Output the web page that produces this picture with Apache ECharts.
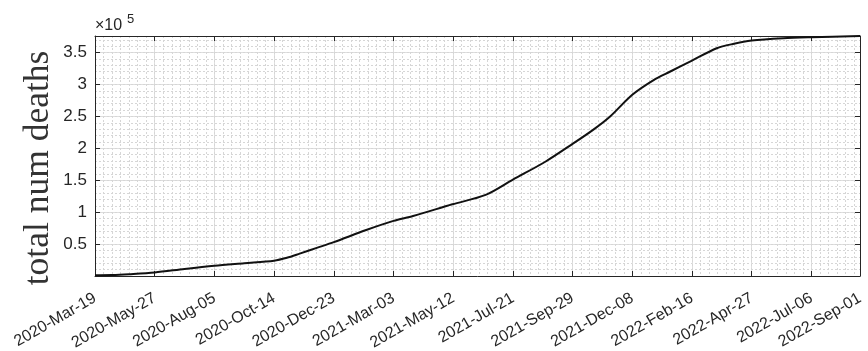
<!DOCTYPE html>
<html>
<head>
<meta charset="utf-8">
<script src="https://cdn.jsdelivr.net/npm/echarts@6/dist/echarts.min.js"></script>
<style>
html,body{margin:0;padding:0;background:#fff;}
#chart{width:868px;height:351px;}
</style>
</head>
<body>
<div id="chart"></div>
<script>
// Day index (1 = 2020-Mar-19) and cumulative deaths
const dayIdx = [0, 20, 40, 70, 105, 140, 175, 210, 225, 240, 260, 280, 318, 350, 373, 419, 458, 490, 528, 560, 584, 604, 630, 655, 674, 700, 729, 748, 770, 807, 840, 897];
const deaths = [1200, 1500, 2800, 5500, 11000, 16000, 20000, 24000, 28500, 35000, 44000, 53000, 72000, 86300, 94000, 112300, 127000, 151000, 179000, 207000, 229000, 250000, 284000, 307000, 320000, 337500, 356800, 363500, 368800, 372400, 374000, 376000];

const xTickValues = [0, 70, 140, 210, 280, 350, 420, 490, 560, 630, 700, 770, 840, 897];
const xTickLabels = ['2020-Mar-19', '2020-May-27', '2020-Aug-05', '2020-Oct-14', '2020-Dec-23', '2021-Mar-03', '2021-May-12', '2021-Jul-21', '2021-Sep-29', '2021-Dec-08', '2022-Feb-16', '2022-Apr-27', '2022-Jul-06', '2022-Sep-01'];
const yTickValues = [50000, 100000, 150000, 200000, 250000, 300000, 350000];
const yTickLabels = ['0.5', '1', '1.5', '2', '2.5', '3', '3.5'];

const X_MAX = 897, Y_MAX = 376000;
const axisColor = '#262626';
const tickFont = 'Liberation Sans';

const chart = echarts.init(document.getElementById('chart'), null, {renderer: 'canvas'});
const gridRect = {left: 95, right: 8, top: 36, bottom: 75, outerBoundsMode: 'none', containLabel: false};

chart.setOption({
  animation: false,
  backgroundColor: '#ffffff',
  grid: [Object.assign({}, gridRect), Object.assign({}, gridRect)],
  xAxis: [
    {
      type: 'value', gridIndex: 0, position: 'bottom', min: 0, max: X_MAX, interval: 70,
      axisLine: {show: true, onZero: false, lineStyle: {color: axisColor, width: 1}},
      axisTick: {show: true, inside: true, length: 5, lineStyle: {color: axisColor}},
      splitLine: {show: true, lineStyle: {color: '#dedede', width: 1}},
      axisLabel: {
        show: true, rotate: 30, margin: 21, color: axisColor, fontFamily: tickFont, fontSize: 16,
        showMinLabel: true, showMaxLabel: true, hideOverlap: false,
        formatter: function (v) { const i = xTickValues.indexOf(Math.round(v)); return i >= 0 ? xTickLabels[i] : ''; }
      }
    },
    {
      type: 'value', gridIndex: 0, position: 'top', min: 0, max: X_MAX, interval: 70,
      axisLine: {show: true, onZero: false, lineStyle: {color: axisColor, width: 1}},
      axisTick: {show: true, inside: true, length: 5, lineStyle: {color: axisColor}},
      splitLine: {show: false}, axisLabel: {show: false}
    },
    {
      type: 'value', gridIndex: 1, min: 0, max: X_MAX, interval: 10,
      axisLine: {show: false}, axisTick: {show: false}, axisLabel: {show: false},
      splitLine: {show: true, lineStyle: {color: '#d6d6d6', width: 1, type: [2, 2]}}
    }
  ],
  yAxis: [
    {
      type: 'value', gridIndex: 0, position: 'left', min: 0, max: Y_MAX, interval: 50000,
      axisLine: {show: true, onZero: false, lineStyle: {color: axisColor, width: 1}},
      axisTick: {show: true, inside: true, length: 5, lineStyle: {color: axisColor}},
      splitLine: {show: true, lineStyle: {color: '#dedede', width: 1}},
      axisLabel: {
        show: true, margin: 8, color: axisColor, fontFamily: tickFont, fontSize: 17,
        formatter: function (v) { const i = yTickValues.indexOf(Math.round(v)); return i >= 0 ? yTickLabels[i] : ''; }
      }
    },
    {
      type: 'value', gridIndex: 0, position: 'right', min: 0, max: Y_MAX, interval: 50000,
      axisLine: {show: true, onZero: false, lineStyle: {color: axisColor, width: 1}},
      axisTick: {show: true, inside: true, length: 5, lineStyle: {color: axisColor}},
      splitLine: {show: false}, axisLabel: {show: false}
    },
    {
      type: 'value', gridIndex: 1, min: 0, max: Y_MAX, interval: 10000,
      axisLine: {show: false}, axisTick: {show: false}, axisLabel: {show: false},
      splitLine: {show: true, lineStyle: {color: '#d6d6d6', width: 1, type: [2, 2]}}
    }
  ],
  series: [{
    type: 'line', xAxisIndex: 0, yAxisIndex: 0,
    data: dayIdx.map(function (d, i) { return [d, deaths[i]]; }),
    showSymbol: false, symbol: 'none', smooth: 0.3,
    lineStyle: {color: '#111111', width: 2}, z: 5
  }],
  graphic: [
    {type: 'text', x: 39, y: 168, rotation: Math.PI / 2,
     style: {text: 'total num deaths', font: '35.5px "Liberation Serif"', fill: '#333333', align: 'center', verticalAlign: 'middle'}},
    {type: 'text', x: 95, y: 26,
     style: {text: '×10', font: '16px "Liberation Sans"', fill: axisColor, align: 'left', verticalAlign: 'middle'}},
    {type: 'text', x: 127, y: 19,
     style: {text: '5', font: '13px "Liberation Sans"', fill: axisColor, align: 'left', verticalAlign: 'middle'}}
  ]
});
</script>
</body>
</html>
